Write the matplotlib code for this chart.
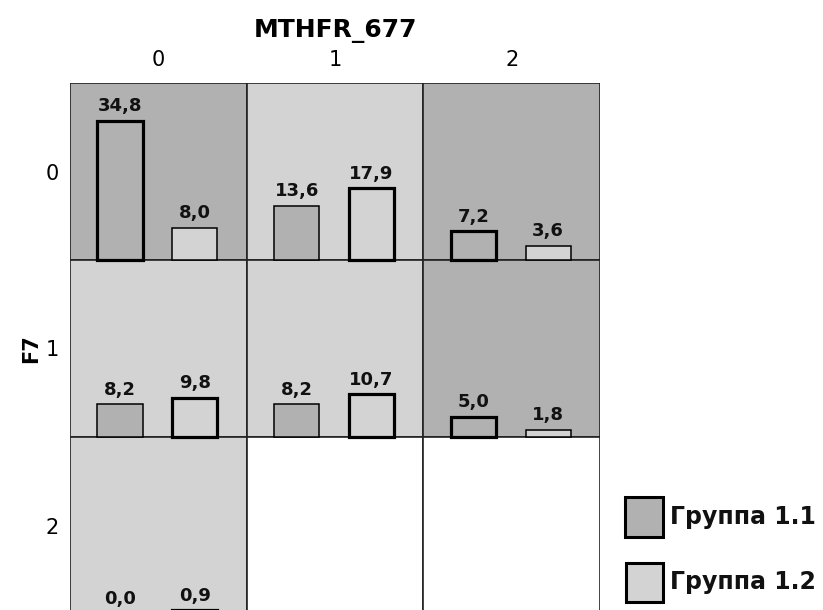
import matplotlib
matplotlib.use("Agg")
import matplotlib.pyplot as plt
from matplotlib.patches import Rectangle

plt.rcParams['font.family'] = ['DejaVu Sans']

# Data
col_labels = ["0", "1", "2"]          # MTHFR_677
row_labels = ["0", "1", "2"]          # F7
group11 = [[34.8, 13.6, 7.2],
           [8.2, 8.2, 5.0],
           [0.0, None, None]]
group12 = [[8.0, 17.9, 3.6],
           [9.8, 10.7, 1.8],
           [0.9, None, None]]
series_names = ["Группа 1.1", "Группа 1.2"]

c_dark = "#b1b1b1"
c_light = "#d3d3d3"
ymax = 44.3

W, H = 823, 610
fig = plt.figure(figsize=(W / 100, H / 100), dpi=100)
left, right, top, bottom = 70, 600, 83, 614
ax = fig.add_axes([left / W, (H - bottom) / H, (right - left) / W, (bottom - top) / H])
ax.set_xlim(0, 3)
ax.set_ylim(0, 3)

for r in range(3):
    for c in range(3):
        y0 = 2 - r
        a, b = group11[r][c], group12[r][c]
        if a is None:
            bg = "white"
        else:
            bg = c_dark if a > b else c_light
        ax.add_patch(Rectangle((c, y0), 1, 1, facecolor=bg, edgecolor="#222222", lw=1.2, zorder=1))
        if a is None:
            continue
        vals = [a, b]
        cols = [c_dark, c_light]
        xs = [c + 0.283, c + 0.707]
        for i in range(2):
            v = vals[i]
            hi = v >= max(vals)
            lw = 2.3 if hi else 1.1
            if v > 0:
                ax.bar(xs[i], v / ymax, bottom=y0, width=0.255, color=cols[i],
                       edgecolor="black", linewidth=lw, zorder=2)
            ax.annotate(f"{v:.1f}".replace(".", ","), (xs[i], y0 + v / ymax),
                        xytext=(0, 4), textcoords="offset points", ha="center",
                        va="bottom", fontsize=13, fontweight="bold", color="#111111",
                        zorder=3, annotation_clip=False)

for s in ax.spines.values():
    s.set_visible(False)

ax.xaxis.tick_top()
ax.set_xticks([0.5, 1.5, 2.5])
ax.set_xticklabels(col_labels, fontsize=15)
ax.set_yticks([2.5, 1.5, 0.5])
ax.set_yticklabels(row_labels, fontsize=15)
ax.tick_params(length=0)
ax.tick_params(axis="x", pad=9)
ax.tick_params(axis="y", pad=8)
ax.xaxis.set_label_position("top")
ax.set_xlabel("MTHFR_677", fontsize=18, fontweight="bold", labelpad=10)
ax.set_ylabel("F7", fontsize=15, fontweight="bold", labelpad=3)

# Legend (drawn manually in figure pixel coordinates)
leg_boxes = [(625, 497, 38, 40), (626, 563, 37, 39)]
for (lx, ly, lw_, lh), col, name in zip(leg_boxes, [c_dark, c_light], series_names):
    fig.add_artist(Rectangle((lx / W, 1 - (ly + lh) / H), lw_ / W, lh / H,
                             transform=fig.transFigure, facecolor=col,
                             edgecolor="black", linewidth=2.2))
    fig.text(670 / W, 1 - (ly + lh / 2) / H, name, fontsize=17, fontweight="bold",
             ha="left", va="center", color="#111111")

fig.savefig("out.png", dpi=100)
